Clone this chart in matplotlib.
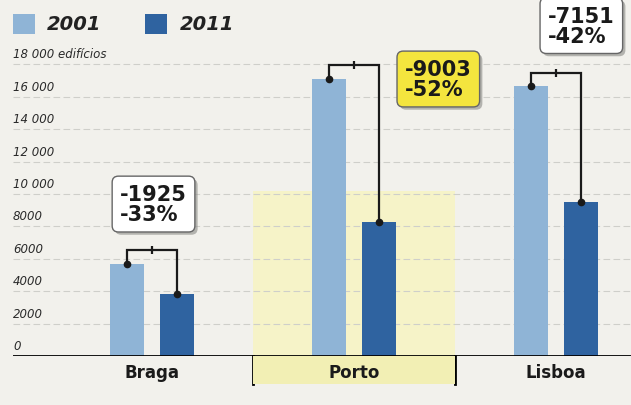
import matplotlib.pyplot as plt
from matplotlib.patches import Rectangle
import matplotlib.transforms as mtransforms
import matplotlib.patheffects as pe

# --- data ---
cities = ['Braga', 'Porto', 'Lisboa']
y2001 = [5700, 17100, 16650]
y2011 = [3850, 8270, 9500]
diff_labels = ['-1925\n-33%', '-9003\n-52%', '-7151\n-42%']
yticks = [0, 2000, 4000, 6000, 8000, 10000, 12000, 14000, 16000, 18000]
ytick_labels = ['0', '2000', '4000', '6000', '8000', '10 000', '12 000',
                '14 000', '16 000', '18 000 edifícios']

C_LIGHT = '#8fb4d6'
C_DARK = '#2f63a0'
PAPER = '#f2f1ec'

fig = plt.figure(figsize=(6.31, 4.06), dpi=100, facecolor=PAPER)
ax = fig.add_axes([13 / 631, 49 / 406, 618 / 631, 357 / 406])
ax.set_facecolor('none')
ax.set_xlim(-0.688, 2.371)
ax.set_ylim(0, 22040)
for s in ax.spines.values():
    s.set_visible(False)
ax.set_xticks([])
ax.set_yticks([])

# yellow highlight behind Porto
ax.add_patch(Rectangle((0.5, 0), 1.0, 10200, fc='#f6f3c8', ec='none', lw=0, zorder=0))

# gridlines + labels
for v, lab in zip(yticks, ytick_labels):
    if v > 0:
        ax.axhline(v, color='#cfcfca', lw=0.8, ls=(0, (6, 3)), zorder=1)
    ax.text(0.0, v + 250, lab, transform=ax.get_yaxis_transform(),
            ha='left', va='bottom', fontsize=8.5, style='italic', color='#2a2a2a')

w = 0.172
off = 0.124
xs = range(len(cities))
ax.bar([x - off for x in xs], y2001, width=w, color=C_LIGHT, zorder=2)
ax.bar([x + off for x in xs], y2011, width=w, color=C_DARK, zorder=2)

ax.axhline(0, color='black', lw=2, zorder=3)

# connectors and boxes
box_pos = [(-0.158, 9380), (1.252, 17100), (1.96, 20400)]
box_fc = ['white', '#f4e53e', 'white']
for i in xs:
    top = y2001[i] + 850
    x0, x1 = i - off, i + off
    ax.plot([x0, x0, x1, x1], [y2001[i], top, top, y2011[i]],
            color='#1a1a1a', lw=1.6, zorder=4, solid_joinstyle='miter')
    ax.plot([x0, x1], [y2001[i], y2011[i]], 'o', color='#1a1a1a', ms=4.5, zorder=5)
    ax.plot([i], [top], '|', color='#1a1a1a', ms=6, mew=1.6, zorder=5)
    bx, by = box_pos[i]
    t = ax.text(bx, by, diff_labels[i], ha='left', va='center', fontsize=15,
                fontweight='bold', color='#1a1a1a', linespacing=1.0, zorder=6,
                bbox=dict(boxstyle='round,pad=0.38,rounding_size=0.3', fc=box_fc[i],
                          ec='#666666', lw=1.0))
    t.get_bbox_patch().set_path_effects([
        pe.SimplePatchShadow(offset=(2, -2), shadow_rgbFace='#8a8a86', alpha=0.6),
        pe.Normal()])

# category labels and separators
trans = mtransforms.blended_transform_factory(ax.transData, fig.transFigure)
fig.patches.append(Rectangle((0.5, 21 / 406), 1.0, 28 / 406, transform=trans,
                             fc='#f2efb4', ec='none', lw=0, zorder=0))
for sx in [0.5, 1.5]:
    ax.plot([sx, sx], [0, -1750], color='black', lw=2, clip_on=False, zorder=3)
for i, c in enumerate(cities):
    fig.text(i, 33 / 406, c, transform=trans, fontsize=12,
             fontweight='bold', color='#1a1a1a', ha='center', va='center')

# legend
fig.patches.append(Rectangle((13 / 631, 371 / 406), 22 / 631, 20 / 406,
                             transform=fig.transFigure, fc=C_LIGHT, ec='none', lw=0))
fig.patches.append(Rectangle((145 / 631, 371 / 406), 22 / 631, 20 / 406,
                             transform=fig.transFigure, fc=C_DARK, ec='none', lw=0))
fig.text(47 / 631, 381 / 406, '2001', fontsize=14, style='italic',
         fontweight='bold', color='#222222', va='center', ha='left')
fig.text(180 / 631, 381 / 406, '2011', fontsize=14, style='italic',
         fontweight='bold', color='#222222', va='center', ha='left')

fig.savefig('out.png', dpi=100, facecolor=PAPER)
